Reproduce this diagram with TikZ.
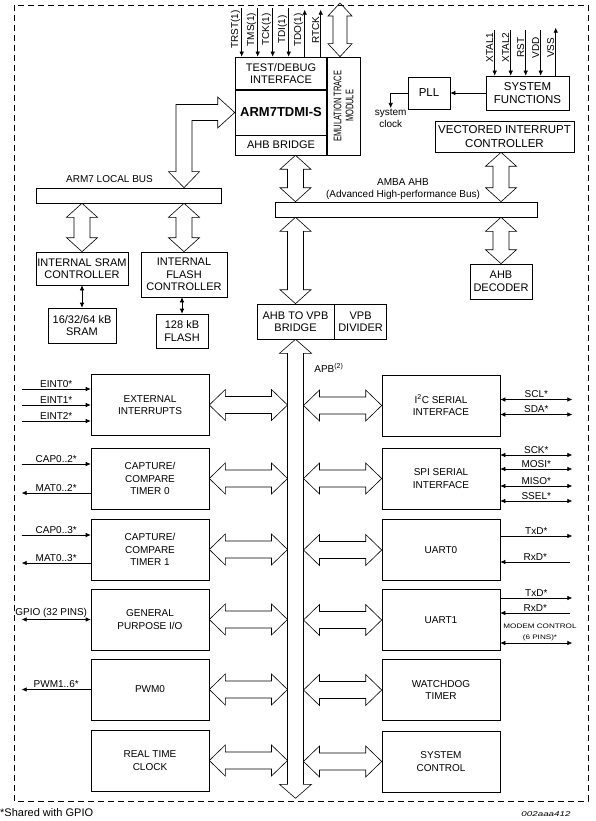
\documentclass[tikz,border=0pt]{standalone}
\usepackage{fontspec}
\setmainfont{Liberation Sans}
\usetikzlibrary{arrows.meta}
\usetikzlibrary{calc}

\def\busw{15.5pt}
\def\bush{14pt}
\def\buss{8pt}

\tikzset{
    blk/.style={draw, line width=0.6pt, inner sep=0pt, align=center, font=\fontsize{10}{12.5}\selectfont},
    big/.style={font=\fontsize{11}{12.5}\selectfont},
    hi/.style={font=\fontsize{11.5}{13.5}\selectfont},
    periph/.style={blk, minimum width=118, minimum height=61},
    lbl/.style={inner sep=1.2pt, font=\fontsize{10}{12}\selectfont},
    sig/.style={line width=0.6pt, -{Latex[length=5pt,width=4.5pt]}},
    sigs/.style={line width=0.6pt, {Latex[length=5pt,width=4.5pt]}-{Latex[length=5pt,width=4.5pt]}},
    busw/.code={\def\busw{#1}},
    bush/.code={\def\bush{#1}},
    buss/.code={\def\buss{#1}},
    vbus/.style={draw, line width=0.6pt, to path={let \p1=(\tikztostart), \p2=(\tikztotarget) in
        -- (\x1-\busw,\y1-\bush) -- (\x1-\buss,\y1-\bush) -- (\x1-\buss,\y2+\bush) -- (\x1-\busw,\y2+\bush)
        -- (\x1,\y2) -- (\x1+\busw,\y2+\bush) -- (\x1+\buss,\y2+\bush) -- (\x1+\buss,\y1-\bush)
        -- (\x1+\busw,\y1-\bush) -- cycle}},
    hbus/.style={draw, line width=0.6pt, bush=16pt, buss=8.5pt, to path={let \p1=(\tikztostart), \p2=(\tikztotarget) in
        -- (\x1+\bush,\y1+\busw) -- (\x1+\bush,\y1+\buss) -- (\x2-\bush,\y1+\buss) -- (\x2-\bush,\y1+\busw)
        -- (\x2,\y1) -- (\x2-\bush,\y1-\busw) -- (\x2-\bush,\y1-\buss) -- (\x1+\bush,\y1-\buss)
        -- (\x1+\bush,\y1-\busw) -- cycle}},
}

\begin{document}
\begin{tikzpicture}[x=1pt, y=-1pt]
    \useasboundingbox (0,0) rectangle (595,821);
    \draw[line width=0.6pt, dash pattern=on 6pt off 4pt] (14,5) rectangle (588,801);

    % processor core
    \node[blk, big, minimum width=92, minimum height=33] (test) at (281,73.5) {TEST/DEBUG\\INTERFACE};
    \node[blk, minimum width=92, minimum height=45, font=\fontsize{13}{15}\selectfont\bfseries] (arm) at (281,112.5) {ARM7TDMI-S};
    \node[blk, big, minimum width=92, minimum height=20] (ahbbr) at (281,145) {AHB BRIDGE};
    \node[blk, minimum width=33, minimum height=98] (etm) at (343.5,106) {};
    \node[rotate=90, align=center, inner sep=0pt, font=\fontsize{11}{12}\selectfont] at (etm) {\scalebox{0.68}[1]{EMULATION TRACE}\\\scalebox{0.68}[1]{MODULE}};
    \draw[line width=1.6pt] (test.south west) -- (test.south east);
    \draw[line width=1.6pt] (etm.north west) -- (etm.south west);

    \foreach \dx/\t in {7/TRST(1), 23/TMS(1), 38/TCK(1), 54/TDI(1)}
        \draw[sig] ($(test.north west)+(\dx,-49)$) -- ++(0,49) node[pos=0.45, rotate=90, anchor=south, lbl]{\t};
    \foreach \dx/\t in {70/TDO(1), 86/RTCK}
        \draw[sig] ($(test.north west)+(\dx,0)$) -- ++(0,-47) node[pos=0.57, rotate=90, anchor=south, lbl]{\t};
    \coordinate (etmtop) at (340,3);
    \draw[vbus, busw=12pt, buss=7pt, bush=13pt] (etmtop) to (etmtop |- etm.north);

    % local bus and memories
    \node[blk, minimum width=185, minimum height=15] (lbus) at (128.5,195.5) {};
    \node[lbl] at (109.5,179) {ARM7 LOCAL BUS};
    \node[blk, big, minimum width=92, minimum height=33] (sramc) at (82,268.5) {INTERNAL SRAM\\CONTROLLER};
    \node[blk, big, minimum width=86, minimum height=45] (flashc) at (184,274.5) {INTERNAL\\FLASH\\CONTROLLER};
    \node[blk, big, minimum width=68, minimum height=35] (sram) at (82,325.5) {16/32/64 kB\\SRAM};
    \node[blk, big, minimum width=52, minimum height=34] (flash) at (182,331) {128 kB\\FLASH};
    \draw[sigs] (sramc.south) -- (sram.north);
    \draw[sigs] (flash.north |- flashc.south) -- (flash.north);
    \draw[vbus] (sramc.north |- lbus.south) to (sramc.north);
    \draw[vbus] (flashc.north |- lbus.south) to (flashc.north);
    \coordinate (lbtap) at (flashc.north |- lbus.north);
    \draw[line width=0.6pt] (lbtap) -- ++(-15.5,-16) -- ++(7.5,0) |- ($(arm.west)+(-17,-8)$) -- ++(0,-7.5) -- (arm.west)
        -- ++(-17,15.5) -- ++(0,-7.5) -| ($(lbtap)+(8,-16)$) -- ++(7.5,0) -- cycle;

    % system functions
    \node[blk, hi, minimum width=83, minimum height=34] (sysfn) at (527.5,93) {SYSTEM\\FUNCTIONS};
    \node[blk, hi, minimum width=42, minimum height=32] (pll) at (429,93) {PLL};
    \node[blk, hi, minimum width=139, minimum height=31] (vic) at (504.5,136.5) {VECTORED INTERRUPT\\CONTROLLER};
    \draw[sig] (sysfn.west) -- (pll.east);
    \draw[sig] (pll.west) -| ++(-17,15) coordinate (sysclk);
    \node[lbl, align=center, anchor=north] at (sysclk) {system\\clock};
    \foreach \dx/\t in {9/XTAL1, 25/XTAL2, 40/RST, 55/VDD}
        \draw[sig] ($(sysfn.north west)+(\dx,-46)$) -- ++(0,46) node[pos=0.39, rotate=90, anchor=south, lbl]{\t};
    \draw[sig] ($(sysfn.north west)+(70,0)$) -- ++(0,-48) node[pos=0.58, rotate=90, anchor=south, lbl]{VSS};

    % AHB
    \node[blk, minimum width=262, minimum height=15] (ahb) at (406,209.5) {};
    \node[lbl, align=center] at (403,189) {AMBA AHB\\(Advanced High-performance Bus)};
    \node[blk, big, minimum width=62, minimum height=35] (ahbdec) at (501,281.5) {AHB\\DECODER};
    \node[blk, big, minimum width=77, minimum height=35] (vpbbr) at (295.5,321.5) {AHB TO VPB\\BRIDGE};
    \node[blk, big, minimum width=52, minimum height=35, anchor=west] (vpbdiv) at (vpbbr.east) {VPB\\DIVIDER};
    \draw[vbus] (ahbbr.south -| vpbbr.north) to (ahb.north -| vpbbr.north);
    \draw[vbus] (ahb.south -| vpbbr.north) to (vpbbr.north);
    \draw[vbus] (vic.south -| ahbdec.north) to (ahb.north -| ahbdec.north);
    \draw[vbus] (ahb.south -| ahbdec.north) to (ahbdec.north);

    % APB
    \coordinate (apbend) at ($(vpbbr.south)+(0,459)$);
    \coordinate (apbl) at ($(vpbbr.south)+(-8,0)$);
    \coordinate (apbr) at ($(vpbbr.south)+(8,0)$);
    \draw[vbus, busw=16pt] (vpbbr.south) to (apbend);
    \node[lbl, anchor=west] at (313,368) {APB\textsuperscript{(2)}};

    \node[periph] (extint) at (150,405) {EXTERNAL\\INTERRUPTS};
    \node[periph] (tmr0) at (150,478.5) {CAPTURE/\\COMPARE\\TIMER 0};
    \node[periph] (tmr1) at (150,549.5) {CAPTURE/\\COMPARE\\TIMER 1};
    \node[periph] (gpio) at (150,619.5) {GENERAL\\PURPOSE I/O};
    \node[periph] (pwm) at (150,689.5) {PWM0};
    \node[periph] (rtc) at (150,760.5) {REAL TIME\\CLOCK};
    \node[periph] (i2c) at (441,405.5) {I\textsuperscript{2}C SERIAL\\INTERFACE};
    \node[periph] (spi) at (441,478.5) {SPI SERIAL\\INTERFACE};
    \node[periph] (uart0) at (441,550) {UART0};
    \node[periph] (uart1) at (441,620) {UART1};
    \node[periph] (wdt) at (441,690) {WATCHDOG\\TIMER};
    \node[periph] (sysctl) at (441,761.5) {SYSTEM\\CONTROL};
    \foreach \per in {extint,tmr0,tmr1,gpio,pwm,rtc}
        \draw[hbus] (\per.east) to (\per.east -| apbl);
    \foreach \per in {i2c,spi,uart0,uart1,wdt,sysctl}
        \draw[hbus] (\per.west -| apbr) to (\per.west);

    % pins
    \foreach \dy/\t in {-16/EINT0*, 0/EINT1*, 16/EINT2*}
        \draw[sig] ($(extint.west)+(-69,\dy)$) -- ++(69,0) node[midway, above, lbl]{\t};
    \draw[sig] ($(tmr0.west)+(-69,-14.5)$) -- ++(69,0) node[midway, above, lbl]{CAP0..2*};
    \draw[sig] ($(tmr0.west)+(0,14.5)$) -- ++(-69,0) node[midway, above, lbl]{MAT0..2*};
    \draw[sig] ($(tmr1.west)+(-69,-14.5)$) -- ++(69,0) node[midway, above, lbl]{CAP0..3*};
    \draw[sig] ($(tmr1.west)+(0,13.5)$) -- ++(-69,0) node[midway, above, lbl]{MAT0..3*};
    \draw[sigs] ($(gpio.west)+(-69,0)$) -- (gpio.west) node[midway, above, lbl, xshift=-5]{GPIO (32 PINS)};
    \draw[sig] (pwm.west) -- ++(-69,0) node[midway, above, lbl]{PWM1..6*};

    \draw[sigs] ($(i2c.east)+(0,-6)$) -- ++(72,0) node[midway, above, lbl]{SCL*};
    \draw[sigs] ($(i2c.east)+(0,9)$) -- ++(72,0) node[midway, above, lbl]{SDA*};
    \foreach \dy/\t in {-23.5/SCK*, -9.5/MOSI*, 7.5/MISO*, 22.5/SSEL*}
        \draw[sigs] ($(spi.east)+(0,\dy)$) -- ++(72,0) node[midway, above, lbl]{\t};
    \draw[sig] ($(uart0.east)+(0,-14)$) -- ++(72,0) node[midway, above, lbl]{TxD*};
    \draw[sig] ($(uart0.east)+(70,12)$) -- ++(-70,0) node[midway, above, lbl]{RxD*};
    \draw[sig] ($(uart1.east)+(0,-22)$) -- ++(72,0) node[midway, above, lbl]{TxD*};
    \draw[sig] ($(uart1.east)+(70,-7)$) -- ++(-70,0) node[midway, above, lbl]{RxD*};
    \node[align=center, font=\fontsize{6.5}{11}\selectfont] at (540,632.5) {\scalebox{1.25}[1]{MODEM CONTROL}\\\scalebox{1.25}[1]{(6 PINS)*}};
    \draw[sigs] ($(uart1.east)+(0,23)$) -- ++(72,0);

    \node[anchor=west, inner sep=0pt, font=\fontsize{11}{13}\selectfont] at (0,813) {*Shared with GPIO};
    \node[inner sep=0pt, font=\fontsize{7}{8}\selectfont\itshape] at (546,814) {\scalebox{1.4}[1]{002aaa412}};
\end{tikzpicture}
\end{document}
